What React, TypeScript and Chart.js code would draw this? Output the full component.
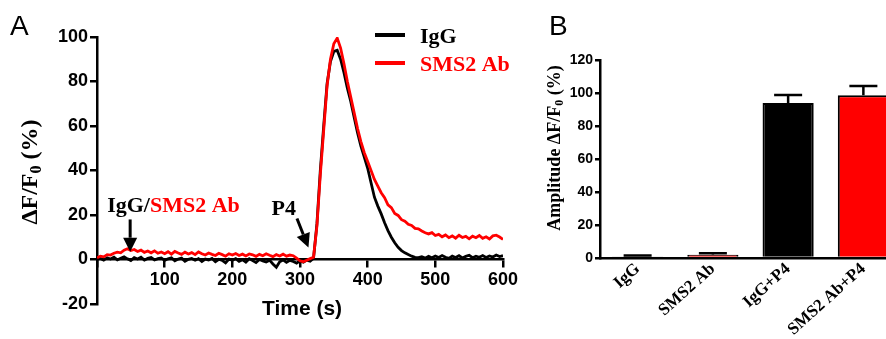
import React, { useEffect, useRef } from 'react';
import { Chart, registerables } from 'chart.js';

Chart.register(...registerables);

// ---------- Panel A data (time course, 5 s sampling) ----------
const TIME_S = [
  0, 5, 10, 15, 20, 25, 30, 35, 40, 45,
  50, 55, 60, 65, 70, 75, 80, 85, 90, 95,
  100, 105, 110, 115, 120, 125, 130, 135, 140, 145,
  150, 155, 160, 165, 170, 175, 180, 185, 190, 195,
  200, 205, 210, 215, 220, 225, 230, 235, 240, 245,
  250, 255, 260, 265, 270, 275, 280, 285, 290, 295,
  300, 305, 310, 315, 320, 325, 330, 335, 340, 345,
  350, 355, 360, 365, 370, 375, 380, 385, 390, 395,
  400, 405, 410, 415, 420, 425, 430, 435, 440, 445,
  450, 455, 460, 465, 470, 475, 480, 485, 490, 495,
  500, 505, 510, 515, 520, 525, 530, 535, 540, 545,
  550, 555, 560, 565, 570, 575, 580, 585, 590, 595,
  600,
];

const IGG_TRACE = [
  0, 0.5, -0.3, 0.8, 0.2, 1.0, -0.2, 0.6, 1.2, 0.3,
  -0.5, 0.8, 0.2, 1.0, -0.3, 0.5, 0.9, -0.2, 0.4, 0.7,
  -0.4, 0.3, 0.8, -0.6, 0.2, 0.6, -0.8, 0.1, 0.5, -0.3,
  0.4, -0.9, 0.2, -0.2, 0.5, -1.0, 0.1, -0.4, -1.5, 0.2,
  -0.3, 0.4, -0.8, -0.1, -1.2, 0.3, -0.5, -1.4, 0.0, -0.6,
  -1.1, -0.3, -2.0, -3.5, -1.0, -0.2, -1.3, -0.4, -0.9, -1.6,
  -0.6, -1.2, -0.3, -0.8, 0.5, 16, 40, 60, 79, 89,
  93.5, 94, 90, 84, 77, 71, 64, 57, 51, 46,
  41, 34.5, 28, 24, 20.5, 16.5, 13, 10, 7.5, 5.5,
  4, 3, 2.2, 1.5, 1.0, 0.8, 1.2, 0.6, 1.4, 0.8,
  1.6, 0.9, 1.8, 1.0, 0.5, 1.5, 0.9, 1.7, 0.7, 1.4,
  1.9, 0.8, 1.5, 1.0, 1.8, 0.9, 1.6, 1.1, 2.0, 1.3,
  1.7,
];

const SMS2_TRACE = [
  0.8, 1.5, 1.2, 2.2, 2.0, 2.8, 3.3, 3.0, 4.2, 4.8,
  4.0, 4.5, 3.6, 4.2, 3.2, 3.8, 3.0, 3.9, 2.8, 3.4,
  2.6, 3.5, 2.4, 3.6, 2.9, 2.3, 3.3, 2.5, 3.1, 2.2,
  3.4, 2.6, 2.0, 2.9, 2.3, 1.8, 2.8, 2.2, 1.5, 2.6,
  2.0, 2.7, 1.8, 2.4, 1.6, 2.5, 2.1, 1.4, 2.3, 1.7,
  2.6, 1.9, 1.3, 2.2, 1.6, 2.4, 1.5, 2.0, 1.7, 0.6,
  -0.6, -1.0, -0.3, 0.4, 1.0, 15, 38, 58, 78, 90,
  97, 99.5, 95, 88, 80, 73, 66, 59, 53, 48,
  44, 40, 36, 33, 30, 27.8, 24.6, 23.3, 20.7, 19.8,
  17.9, 17.2, 15.8, 15.3, 14.0, 13.8, 12.8, 12.0, 11.5, 12.1,
  10.8, 11.3, 10.2, 11.0, 9.8, 10.6, 9.6, 10.9, 9.9, 10.4,
  9.3, 10.5, 9.8, 10.8, 9.5, 10.2, 9.2, 10.6, 10.9, 10.1,
  9.0,
];

// ---------- Panel B data (amplitudes, mean + SEM) ----------
const BAR_LABELS = ['IgG', 'SMS2 Ab', 'IgG+P4', 'SMS2 Ab+P4'];
const BAR_MEANS = [0.9, 2.0, 94.0, 98.6];
const BAR_SEM = [0.6, 0.9, 4.8, 5.6];
const BAR_COLORS = ['#000000', '#ff0000', '#000000', '#ff0000'];

const SANS = '"Liberation Sans", Arial, Helvetica, sans-serif';
const SERIF = '"Liberation Serif", "Times New Roman", Times, serif';
const RED = '#ff0000';

type Part = { text: string; size: number; color?: string; dy?: number };

function partsWidth(ctx: CanvasRenderingContext2D, parts: Part[]) {
  let w = 0;
  for (const p of parts) {
    ctx.font = `bold ${p.size}px ${SERIF}`;
    w += ctx.measureText(p.text).width;
  }
  return w;
}

function drawParts(ctx: CanvasRenderingContext2D, parts: Part[], x: number, y: number, center: boolean) {
  let cx = center ? x - partsWidth(ctx, parts) / 2 : x;
  for (const p of parts) {
    ctx.font = `bold ${p.size}px ${SERIF}`;
    ctx.fillStyle = p.color || '#000';
    ctx.fillText(p.text, cx, y + (p.dy || 0));
    cx += ctx.measureText(p.text).width;
  }
}

function drawVertical(ctx: CanvasRenderingContext2D, parts: Part[], cx: number, cy: number) {
  ctx.save();
  ctx.translate(cx, cy);
  ctx.rotate(-Math.PI / 2);
  ctx.textBaseline = 'middle';
  ctx.textAlign = 'left';
  drawParts(ctx, parts, 0, 0, true);
  ctx.restore();
}

function drawArrow(ctx: CanvasRenderingContext2D, x1: number, y1: number, x2: number, y2: number) {
  const head = 14;
  const half = 7;
  const ang = Math.atan2(y2 - y1, x2 - x1);
  const bx = x2 - head * Math.cos(ang);
  const by = y2 - head * Math.sin(ang);
  ctx.save();
  ctx.strokeStyle = '#000';
  ctx.fillStyle = '#000';
  ctx.lineWidth = 3;
  ctx.beginPath();
  ctx.moveTo(x1, y1);
  ctx.lineTo(bx, by);
  ctx.stroke();
  ctx.beginPath();
  ctx.moveTo(x2, y2);
  ctx.lineTo(bx + half * Math.sin(ang), by - half * Math.cos(ang));
  ctx.lineTo(bx - half * Math.sin(ang), by + half * Math.cos(ang));
  ctx.closePath();
  ctx.fill();
  ctx.restore();
}

const panelAPlugin = {
  id: 'panelADecor',
  afterDraw(chart: any) {
    const ctx: CanvasRenderingContext2D = chart.ctx;
    const xs = chart.scales.x;
    const ys = chart.scales.y;
    const area = chart.chartArea;
    ctx.save();
    // Panel letter
    ctx.font = `28px ${SANS}`;
    ctx.fillStyle = '#000';
    ctx.textAlign = 'left';
    ctx.textBaseline = 'alphabetic';
    ctx.fillText('A', 10, 35);

    // Y title
    drawVertical(ctx, [
      { text: 'ΔF/F', size: 24 },
      { text: '0', size: 16, dy: 6 },
      { text: ' (%)', size: 24 },
    ], 31, 172);

    // X title
    ctx.font = `bold 21px ${SANS}`;
    ctx.fillStyle = '#000';
    ctx.textAlign = 'center';
    ctx.textBaseline = 'middle';
    ctx.fillText('Time (s)', (area.left + area.right) / 2 + 2, 309);

    // Legend
    ctx.lineWidth = 4;
    ctx.strokeStyle = '#000';
    ctx.beginPath();
    ctx.moveTo(375, 35);
    ctx.lineTo(405, 35);
    ctx.stroke();
    ctx.strokeStyle = RED;
    ctx.beginPath();
    ctx.moveTo(375, 63);
    ctx.lineTo(405, 63);
    ctx.stroke();
    ctx.textAlign = 'left';
    ctx.textBaseline = 'alphabetic';
    drawParts(ctx, [{ text: 'IgG', size: 22 }], 420, 43, false);
    drawParts(ctx, [{ text: 'SMS2 Ab', size: 22, color: RED }], 420, 71, false);

    // Annotations
    drawParts(ctx, [
      { text: 'IgG/', size: 22 },
      { text: 'SMS2 Ab', size: 22, color: RED },
    ], xs.getPixelForValue(15), ys.getPixelForValue(21.5), false);
    drawArrow(ctx, xs.getPixelForValue(49), ys.getPixelForValue(18), xs.getPixelForValue(49), ys.getPixelForValue(3.5));

    drawParts(ctx, [{ text: 'P4', size: 22 }], xs.getPixelForValue(258), ys.getPixelForValue(20.2), false);
    drawArrow(ctx, xs.getPixelForValue(295.5), ys.getPixelForValue(18.4), xs.getPixelForValue(312.5), ys.getPixelForValue(5.4));
    ctx.restore();
  },
};

const panelBPlugin = {
  id: 'panelBDecor',
  afterDatasetsDraw(chart: any) {
    const ctx: CanvasRenderingContext2D = chart.ctx;
    const ys = chart.scales.y;
    const meta = chart.getDatasetMeta(0);
    ctx.save();
    ctx.strokeStyle = '#000';
    ctx.lineWidth = 2.5;
    meta.data.forEach((bar: any, i: number) => {
      const x = bar.x;
      const yTop = ys.getPixelForValue(BAR_MEANS[i]);
      const yErr = ys.getPixelForValue(BAR_MEANS[i] + BAR_SEM[i]);
      ctx.beginPath();
      ctx.moveTo(x, yTop);
      ctx.lineTo(x, yErr);
      ctx.moveTo(x - 14, yErr);
      ctx.lineTo(x + 14, yErr);
      ctx.stroke();
    });
    ctx.restore();
  },
  afterDraw(chart: any) {
    const ctx: CanvasRenderingContext2D = chart.ctx;
    ctx.save();
    ctx.font = `28px ${SANS}`;
    ctx.fillStyle = '#000';
    ctx.textAlign = 'left';
    ctx.textBaseline = 'alphabetic';
    ctx.fillText('B', 19, 35);
    drawVertical(ctx, [
      { text: 'Amplitude ΔF/F', size: 18 },
      { text: '0', size: 12, dy: 4.5 },
      { text: ' (%)', size: 18 },
    ], 25, 148);
    ctx.restore();
  },
};

export default function App() {
  const refA = useRef<HTMLCanvasElement>(null);
  const refB = useRef<HTMLCanvasElement>(null);

  useEffect(() => {
    const axisBorder = { display: true, color: '#000', width: 2.5 };

    const chartA = new Chart(refA.current as HTMLCanvasElement, {
      type: 'line',
      data: {
        datasets: [
          {
            label: 'SMS2 Ab',
            data: SMS2_TRACE.map((y, i) => ({ x: TIME_S[i], y })),
            borderColor: RED,
            borderWidth: 2.8,
            pointRadius: 0,
            tension: 0,
            fill: false,
          },
          {
            label: 'IgG',
            data: IGG_TRACE.map((y, i) => ({ x: TIME_S[i], y })),
            borderColor: '#000',
            borderWidth: 2.8,
            pointRadius: 0,
            tension: 0,
            fill: false,
          },
        ],
      },
      options: {
        responsive: false,
        animation: false,
        layout: { padding: { top: 37, right: 27, left: 0, bottom: 35 } },
        plugins: { legend: { display: false }, tooltip: { enabled: false } },
        scales: {
          x: {
            type: 'linear',
            min: 0,
            max: 600,
            position: { y: 0 } as any,
            ticks: {
              stepSize: 100,
              color: '#000',
              font: { family: SANS, size: 18, weight: 'bold' },
              padding: 3,
              maxRotation: 0,
              callback: (v: any) => (Number(v) === 0 ? '' : String(v)),
            },
            grid: { drawOnChartArea: false, drawTicks: true, tickLength: 7, color: '#000', lineWidth: 2.5 },
            border: axisBorder,
          },
          y: {
            min: -20,
            max: 100,
            position: 'left',
            ticks: {
              stepSize: 20,
              color: '#000',
              font: { family: SANS, size: 18, weight: 'bold' },
              padding: 2,
            },
            grid: { drawOnChartArea: false, drawTicks: true, tickLength: 7, color: '#000', lineWidth: 2.5 },
            border: axisBorder,
            afterFit: (s: any) => { s.width = 97; },
          },
        },
      } as any,
      plugins: [panelAPlugin],
    });

    const chartB = new Chart(refB.current as HTMLCanvasElement, {
      type: 'bar',
      data: {
        labels: BAR_LABELS,
        datasets: [
          {
            data: BAR_MEANS,
            backgroundColor: BAR_COLORS,
            borderColor: '#000',
            borderWidth: 2,
            barPercentage: 0.68,
            categoryPercentage: 1,
          },
        ],
      },
      options: {
        responsive: false,
        animation: false,
        layout: { padding: { top: 60, right: 0, left: 0, bottom: 0 } },
        plugins: { legend: { display: false }, tooltip: { enabled: false } },
        scales: {
          x: {
            ticks: {
              color: '#000',
              font: { family: SERIF, size: 17, weight: 'bold' },
              minRotation: 42,
              maxRotation: 42,
              autoSkip: false,
              padding: 1,
            },
            grid: { display: false, drawTicks: false },
            border: axisBorder,
            afterFit: (s: any) => { s.height = 81; },
          },
          y: {
            min: 0,
            max: 120,
            ticks: {
              stepSize: 20,
              color: '#000',
              font: { family: SANS, size: 14, weight: 'bold' },
              padding: 2,
            },
            grid: { drawOnChartArea: false, drawTicks: true, tickLength: 5, color: '#000', lineWidth: 2.5 },
            border: axisBorder,
            afterFit: (s: any) => { s.width = 70; },
          },
        },
      } as any,
      plugins: [panelBPlugin],
    });

    return () => {
      chartA.destroy();
      chartB.destroy();
    };
  }, []);

  return (
    <div style={{ position: 'fixed', left: 0, top: 0, width: 886, height: 339, overflow: 'hidden', background: '#fff' }}>
      <canvas ref={refA} width={530} height={339} style={{ position: 'absolute', left: 0, top: 0, width: 530, height: 339 }} />
      <canvas ref={refB} width={371} height={339} style={{ position: 'absolute', left: 530, top: 0, width: 371, height: 339 }} />
    </div>
  );
}
